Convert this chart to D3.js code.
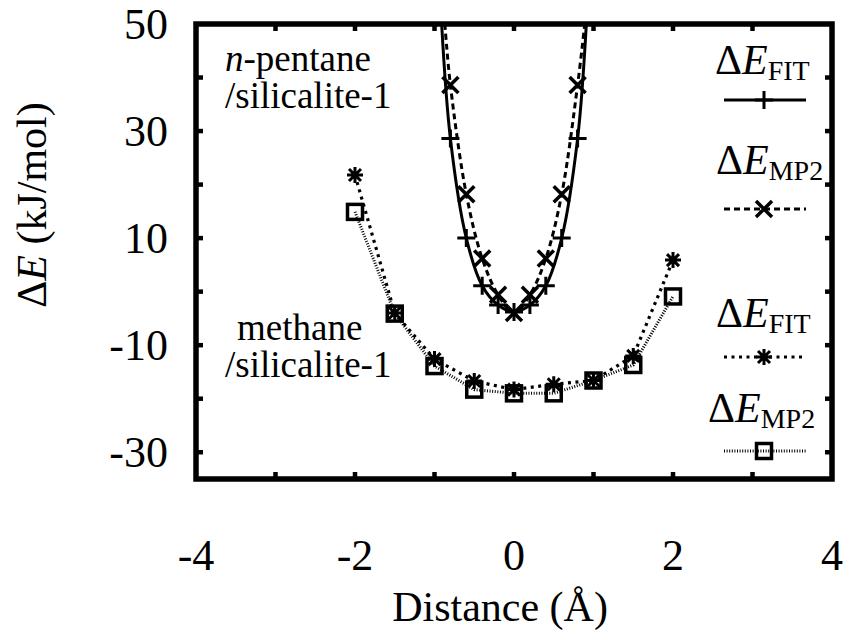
<!DOCTYPE html>
<html>
<head>
<meta charset="utf-8">
<script src="https://cdn.jsdelivr.net/npm/d3@7"></script>
<style>svg { display: block; }</style>
</head>
<body style="margin:0">
<svg id="chart" width="846" height="630"></svg>
<script>
// Interaction energy profiles of n-pentane and methane in silicalite-1
const pentaneDist = [-0.8, -0.6, -0.4, -0.2, 0, 0.2, 0.4, 0.6, 0.8];
const pentaneFit  = [28.6, 10.0, 1.1, -2.5, -3.8, -2.5, 1.1, 10.0, 28.6];
const pentaneMp2  = [38.6, 18.2, 6.2, -0.6, -4.0, -0.6, 6.2, 18.2, 38.6];
// where the smooth pentane curves leave the top of the frame
const pentaneFitEnds = [[-0.91, 50], [0.91, 50]];
const pentaneMp2Ends = [[-0.87, 50], [0.89, 50]];

const methaneDist = [-2, -1.5, -1, -0.5, 0, 0.5, 1, 1.5, 2];
const methaneFit  = [21.8, -4.0, -12.6, -16.7, -18.3, -17.3, -16.6, -12.0, 5.9];
const methaneMp2  = [14.9, -4.1, -13.9, -18.3, -19.0, -19.0, -16.6, -13.7, -0.9];

const xTicks = [-4, -3, -2, -1, 0, 1, 2, 3, 4];
const xTickLabels = [-4, -2, 0, 2, 4];
const yTicks = [-30, -20, -10, 0, 10, 20, 30, 40, 50];
const yTickLabels = [50, 30, 10, -10, -30];

const F = "'Liberation Serif'";

const svg = d3.select("#chart");
svg.append("rect").attr("width", 846).attr("height", 630).attr("fill", "#fff");

const x = d3.scaleLinear().domain([-4, 4]).range([196, 832]);
const y = d3.scaleLinear().domain([-35, 50]).range([479, 24]);
const [x0, x1] = x.range();
const [y1, y0] = y.range();

svg.append("defs").append("clipPath").attr("id", "plotClip")
  .append("rect").attr("x", x0).attr("y", y0).attr("width", x1 - x0).attr("height", y1 - y0);

// ---- series
const plot = svg.append("g").attr("clip-path", "url(#plotClip)");

function pts(xs, ys) { return xs.map((d, i) => [d, ys[i]]); }

const smooth = d3.line().x(d => x(d[0])).y(d => y(d[1])).curve(d3.curveCatmullRom.alpha(0.5));
const straight = d3.line().x(d => x(d[0])).y(d => y(d[1]));

const pFit = pts(pentaneDist, pentaneFit);
const pMp2 = pts(pentaneDist, pentaneMp2);
const mFit = pts(methaneDist, methaneFit);
const mMp2 = pts(methaneDist, methaneMp2);

const styles = {
  pFit: { dash: null, width: 3 },
  pMp2: { dash: "6,4", width: 3 },
  mFit: { dash: "3,4.5", width: 3.2 },
  mMp2: { dash: "1,1.6", width: 3 }
};

plot.append("path").attr("d", straight(mMp2)).attr("fill", "none").attr("stroke", "#000")
  .attr("stroke-width", styles.mMp2.width).attr("stroke-dasharray", styles.mMp2.dash);
plot.append("path").attr("d", straight(mFit)).attr("fill", "none").attr("stroke", "#000")
  .attr("stroke-width", styles.mFit.width).attr("stroke-dasharray", styles.mFit.dash);
plot.append("path").attr("d", smooth([pentaneMp2Ends[0], ...pMp2, pentaneMp2Ends[1]]))
  .attr("fill", "none").attr("stroke", "#000")
  .attr("stroke-width", styles.pMp2.width).attr("stroke-dasharray", styles.pMp2.dash);
plot.append("path").attr("d", smooth([pentaneFitEnds[0], ...pFit, pentaneFitEnds[1]]))
  .attr("fill", "none").attr("stroke", "#000").attr("stroke-width", styles.pFit.width);

// marker glyphs
function plus(g, cx, cy) {
  const h = 9;
  g.append("path").attr("d", `M${cx - h},${cy}H${cx + h}M${cx},${cy - h}V${cy + h}`)
    .attr("stroke", "#000").attr("stroke-width", 3).attr("fill", "none");
}
function cross(g, cx, cy) {
  const h = 8;
  g.append("path").attr("d", `M${cx - h},${cy - h}L${cx + h},${cy + h}M${cx - h},${cy + h}L${cx + h},${cy - h}`)
    .attr("stroke", "#000").attr("stroke-width", 3.5).attr("fill", "none");
}
function star(g, cx, cy) {
  const h = 8, d = 6;
  g.append("path").attr("d",
    `M${cx - h},${cy}H${cx + h}M${cx},${cy - h}V${cy + h}` +
    `M${cx - d},${cy - d}L${cx + d},${cy + d}M${cx - d},${cy + d}L${cx + d},${cy - d}`)
    .attr("stroke", "#000").attr("stroke-width", 3).attr("fill", "none");
}
function box(g, cx, cy) {
  const h = 7.5;
  g.append("rect").attr("x", cx - h).attr("y", cy - h).attr("width", 2 * h).attr("height", 2 * h)
    .attr("stroke", "#000").attr("stroke-width", 3.5).attr("fill", "none");
}

const marks = svg.append("g").attr("clip-path", "url(#plotClip)");
mMp2.forEach(d => box(marks, x(d[0]), y(d[1])));
mFit.forEach(d => star(marks, x(d[0]), y(d[1])));
pMp2.forEach(d => cross(marks, x(d[0]), y(d[1])));
pFit.forEach(d => plus(marks, x(d[0]), y(d[1])));

// ---- axes: inward ticks on all four sides
const tickLen = 7;
const axes = svg.append("g").attr("stroke", "#000").attr("stroke-width", 4.5);
xTicks.slice(1, -1).forEach(v => {
  axes.append("line").attr("x1", x(v)).attr("x2", x(v)).attr("y1", y1).attr("y2", y1 - tickLen);
  axes.append("line").attr("x1", x(v)).attr("x2", x(v)).attr("y1", y0).attr("y2", y0 + tickLen);
});
yTicks.slice(0, -1).forEach(v => {
  axes.append("line").attr("x1", x0).attr("x2", x0 + tickLen).attr("y1", y(v)).attr("y2", y(v));
  axes.append("line").attr("x1", x1).attr("x2", x1 - tickLen).attr("y1", y(v)).attr("y2", y(v));
});

// frame
svg.append("rect").attr("x", x0).attr("y", y0).attr("width", x1 - x0).attr("height", y1 - y0)
  .attr("fill", "none").attr("stroke", "#000").attr("stroke-width", 5.5);

// legend line samples
const legend = [
  { sub: "FIT", tx: 715, ty: 74, ly: 100, key: "pFit", glyph: plus },
  { sub: "MP2", tx: 716, ty: 174, ly: 209, key: "pMp2", glyph: cross },
  { sub: "FIT", tx: 716, ty: 327, ly: 357, key: "mFit", glyph: star },
  { sub: "MP2", tx: 708, ty: 422, ly: 451, key: "mMp2", glyph: box }
];
legend.forEach(d => {
  const s = styles[d.key];
  svg.append("line").attr("x1", 724).attr("x2", 806).attr("y1", d.ly).attr("y2", d.ly)
    .attr("stroke", "#000").attr("stroke-width", s.width).attr("stroke-dasharray", s.dash);
  d.glyph(svg, 764, d.ly);
});

// ---- all text
xTickLabels.forEach(d => {
  svg.append("text").attr("font-family", F).attr("font-size", 44)
    .attr("x", x(d)).attr("y", 570).attr("text-anchor", "middle").text(d);
});
yTickLabels.forEach(d => {
  svg.append("text").attr("font-family", F).attr("font-size", 44)
    .attr("x", 168).attr("y", y(d) + 15).attr("text-anchor", "end").text(d);
});

const yTitle = svg.append("text").attr("font-family", F).attr("font-size", 42)
  .attr("transform", "translate(46,205) rotate(-90)").attr("text-anchor", "middle");
yTitle.append("tspan").text("Δ");
yTitle.append("tspan").attr("font-style", "italic").text("E");
yTitle.append("tspan").text(" (kJ/mol)");

svg.append("text").attr("font-family", F).attr("font-size", 42)
  .attr("x", 500).attr("y", 621).attr("text-anchor", "middle").text("Distance (Å)");

const ann1 = svg.append("text").attr("font-family", F).attr("font-size", 37).attr("x", 225).attr("y", 71);
ann1.append("tspan").attr("font-style", "italic").text("n");
ann1.append("tspan").text("-pentane");
svg.append("text").attr("font-family", F).attr("font-size", 37).attr("x", 225).attr("y", 108).text("/silicalite-1");
svg.append("text").attr("font-family", F).attr("font-size", 37).attr("x", 237).attr("y", 340).text("methane");
svg.append("text").attr("font-family", F).attr("font-size", 37).attr("x", 225).attr("y", 377).text("/silicalite-1");

legend.forEach(d => {
  const t = svg.append("text").attr("font-family", F).attr("font-size", 42).attr("x", d.tx).attr("y", d.ty);
  t.append("tspan").text("Δ");
  t.append("tspan").attr("font-style", "italic").text("E");
  t.append("tspan").attr("font-size", 28).attr("dy", 6).text(d.sub);
});
</script>
</body>
</html>
